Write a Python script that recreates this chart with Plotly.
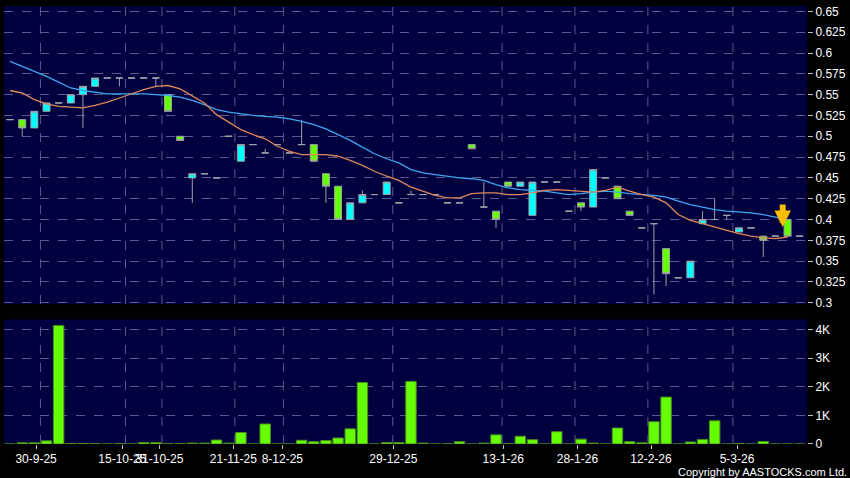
import plotly.graph_objects as go

# ---------------- data ----------------
opens  = [0.52,0.52,0.51,0.53,0.54,0.54,0.55,0.56,0.57,0.57,0.57,0.57,0.57,0.55,0.50,0.45,
          0.455,0.45,0.50,0.47,0.49,0.48,0.49,0.48,0.49,0.49,0.455,0.44,0.40,0.42,0.43,0.43,
          0.42,0.43,0.43,0.43,0.42,0.42,0.49,0.415,0.41,0.445,0.44,0.405,0.445,0.445,0.41,0.42,
          0.415,0.45,0.44,0.41,0.39,0.395,0.365,0.33,0.33,0.395,0.40,0.405,0.385,0.39,0.38,0.38,
          0.40,0.38]
highs  = [0.52,0.52,0.53,0.54,0.54,0.55,0.56,0.57,0.57,0.57,0.57,0.57,0.57,0.55,0.50,0.455,
          0.455,0.45,0.50,0.49,0.49,0.485,0.49,0.48,0.52,0.49,0.455,0.44,0.42,0.435,0.43,0.445,
          0.42,0.435,0.43,0.43,0.42,0.42,0.49,0.445,0.41,0.445,0.445,0.445,0.445,0.445,0.41,0.42,
          0.46,0.45,0.44,0.41,0.39,0.395,0.365,0.33,0.35,0.41,0.425,0.405,0.39,0.39,0.38,0.38,
          0.40,0.38]
lows   = [0.52,0.50,0.51,0.53,0.54,0.54,0.51,0.56,0.57,0.56,0.57,0.57,0.56,0.53,0.495,0.42,
          0.455,0.45,0.50,0.47,0.49,0.48,0.49,0.48,0.49,0.47,0.42,0.40,0.40,0.42,0.43,0.43,
          0.42,0.43,0.43,0.43,0.42,0.42,0.485,0.415,0.39,0.44,0.44,0.405,0.445,0.445,0.41,0.41,
          0.415,0.45,0.425,0.405,0.39,0.31,0.32,0.33,0.33,0.395,0.40,0.40,0.385,0.39,0.355,0.38,
          0.38,0.38]
closes = [0.52,0.51,0.53,0.54,0.54,0.55,0.56,0.57,0.57,0.57,0.57,0.57,0.57,0.53,0.495,0.455,
          0.455,0.45,0.50,0.49,0.49,0.48,0.49,0.48,0.49,0.47,0.44,0.40,0.42,0.43,0.43,0.445,
          0.42,0.43,0.43,0.43,0.42,0.42,0.485,0.415,0.40,0.44,0.445,0.445,0.445,0.445,0.41,0.415,
          0.46,0.45,0.425,0.405,0.39,0.395,0.335,0.33,0.35,0.40,0.40,0.405,0.39,0.39,0.375,0.38,
          0.38,0.38]
volumes = [0,40,40,110,4140,20,20,10,0,10,0,50,50,10,10,30,
           30,140,30,400,0,700,0,0,130,80,120,210,530,2150,0,50,
           50,2190,30,0,5,80,0,30,320,5,270,150,0,430,0,170,
           30,0,560,80,40,780,1640,0,70,160,810,0,20,0,90,0,
           0,0]
ma_slow = [0.590,0.584,0.578,0.572,0.565,0.558,0.555,0.553,0.551,0.551,0.551,0.551,0.550,0.549,0.547,0.543,
           0.538,0.532,0.529,0.527,0.525,0.524,0.523,0.521,0.518,0.514,0.509,0.502,0.495,0.487,0.479,0.473,
           0.468,0.460,0.456,0.454,0.452,0.450,0.449,0.447,0.442,0.438,0.436,0.435,0.434,0.432,0.430,0.431,
           0.433,0.434,0.433,0.431,0.430,0.429,0.427,0.422,0.418,0.415,0.412,0.410,0.409,0.408,0.406,0.403,
           0.400]
ma_fast = [0.555,0.552,0.544,0.539,0.536,0.535,0.534,0.537,0.541,0.546,0.551,0.556,0.560,0.561,0.557,0.548,
           0.540,0.526,0.517,0.508,0.502,0.497,0.488,0.482,0.478,0.478,0.478,0.476,0.471,0.465,0.458,0.452,
           0.447,0.439,0.434,0.429,0.426,0.426,0.431,0.432,0.432,0.430,0.430,0.432,0.435,0.436,0.435,0.434,
           0.433,0.435,0.439,0.434,0.430,0.427,0.420,0.406,0.399,0.395,0.391,0.387,0.383,0.380,0.378,0.377,
           0.379]
tick_labels = ["30-9-25","15-10-25","31-10-25","21-11-25","8-12-25","29-12-25",
               "13-1-26","28-1-26","12-2-26","5-3-26"]
tick_pos    = [2.14, 9.24, 12.29, 18.38, 22.41, 31.55, 40.6, 46.7, 52.76, 59.84]
grid_idx    = [2, 9, 12, 18, 22, 31, 40, 46, 52, 59]
price_ticks = [0.3,0.325,0.35,0.375,0.4,0.425,0.45,0.475,0.5,0.525,0.55,0.575,0.6,0.625,0.65]
price_tick_text = ["0.3","0.325","0.35","0.375","0.4","0.425","0.45","0.475","0.5","0.525",
                   "0.55","0.575","0.6","0.625","0.65"]
vol_ticks = [0,1000,2000,3000,4000]
vol_tick_text = ["0","1K","2K","3K","4K"]

# ---------------- styling ----------------
BG = "#00003f"
GRID = "#5a5a8e"
FONT = "Liberation Sans, Arial, sans-serif"
x_idx = list(range(len(closes)))

fig = go.Figure()
fig.add_trace(go.Candlestick(
    x=x_idx, open=opens, high=highs, low=lows, close=closes,
    increasing=dict(fillcolor="#00ffff", line=dict(color="#a0a0a8", width=1)),
    decreasing=dict(fillcolor="#66ff00", line=dict(color="#a0a0a8", width=1)),
    whiskerwidth=0, xaxis="x", yaxis="y", showlegend=False, hoverinfo="skip"))
fig.add_trace(go.Scatter(x=x_idx[:len(ma_slow)], y=ma_slow, mode="lines",
                         line=dict(color="#3ea6f0", width=1.3), xaxis="x", yaxis="y",
                         showlegend=False, hoverinfo="skip"))
fig.add_trace(go.Scatter(x=x_idx[:len(ma_fast)], y=ma_fast, mode="lines",
                         line=dict(color="#e0875a", width=1.3), xaxis="x", yaxis="y",
                         showlegend=False, hoverinfo="skip"))
fig.add_trace(go.Bar(x=x_idx, y=volumes, width=0.86,
                     marker=dict(color="#66ff00", line=dict(color="#4a8a22", width=1)),
                     xaxis="x2", yaxis="y2", showlegend=False, hoverinfo="skip"))

shapes = []
for g in grid_idx:
    for xr, yr in (("x", "y domain"), ("x2", "y2 domain")):
        shapes.append(dict(type="line", xref=xr, yref=yr,
                           x0=g + 0.5, x1=g + 0.5, y0=0, y1=1,
                           line=dict(color=GRID, width=1, dash="dash"), layer="below"))

last = len(closes) - 1
annotations = [
    dict(x=last - 1.4, y=highs[last - 1] - 0.009, xref="x", yref="y", ax=0, ay=-24,
         showarrow=True, arrowhead=2, arrowsize=0.55, arrowwidth=6, arrowcolor="#f9be00",
         text=""),
    dict(x=1.0523, y=-0.064, xref="paper", yref="paper", xanchor="right", yanchor="middle",
         text="Copyright by AASTOCKS.com Ltd.", showarrow=False,
         font=dict(family=FONT, size=11, color="white")),
]

axis_common = dict(showline=False, zeroline=False, color="white", automargin=False,
                   tickfont=dict(family=FONT, size=12, color="white"))

fig.update_layout(
    width=850, height=478,
    margin=dict(l=4, r=43, t=6, b=34),
    paper_bgcolor="black", plot_bgcolor=BG,
    boxgap=0.18, bargap=0.1,
    shapes=shapes, annotations=annotations,
    xaxis=dict(domain=[0, 1], anchor="y", range=[-0.5, 65.6], showticklabels=False,
               showgrid=False, ticks="", rangeslider=dict(visible=False), **axis_common),
    yaxis=dict(domain=[0.3196, 1], anchor="x", side="right", range=[0.2985, 0.6565],
               tickvals=price_ticks, ticktext=price_tick_text, ticks="outside", ticklen=5,
               tickcolor="#c0c0c0", showgrid=True, gridcolor=GRID, griddash="dash",
               gridwidth=1, **axis_common),
    xaxis2=dict(domain=[0, 1], anchor="y2", range=[-0.5, 65.6], tickvals=tick_pos,
                ticktext=tick_labels, ticks="outside", ticklen=4, tickcolor="#c0c0c0",
                tickangle=0, showgrid=False, **axis_common),
    yaxis2=dict(domain=[0, 0.284], anchor="x2", side="right", range=[0, 4350],
                tickvals=vol_ticks, ticktext=vol_tick_text, ticks="outside", ticklen=5,
                tickcolor="#c0c0c0", showgrid=True, gridcolor=GRID, griddash="dash",
                gridwidth=1, **axis_common),
)

fig.write_html("out.html", config={"displayModeBar": False},
               post_script="document.body.style.margin='0';document.body.style.background='black';")
